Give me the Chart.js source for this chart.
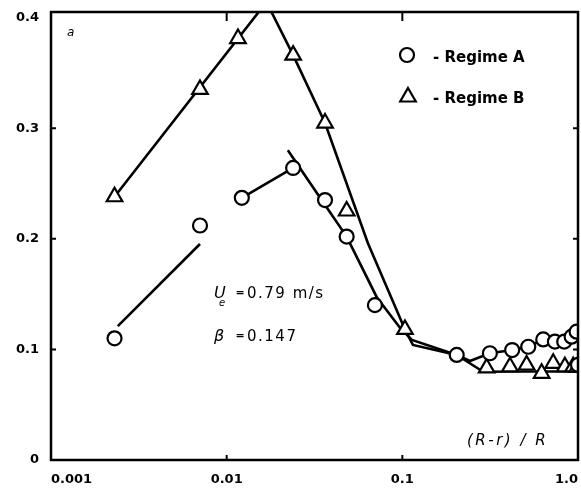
<!DOCTYPE html>
<html>
<head>
<meta charset="utf-8">
<script src="https://cdn.jsdelivr.net/npm/chart.js@4.4.0/dist/chart.umd.min.js"></script>
<style>
  body { margin: 0; background: #fff; }
  #wrap { width: 581px; height: 488px; }
</style>
</head>
<body>
<div id="wrap"><canvas id="profile-chart" width="581" height="488"></canvas></div>
<script>
// measured points, regime A (circles)
const regimeAX = [0.0023, 0.00705, 0.0122, 0.0239, 0.0363, 0.0482, 0.0698, 0.204, 0.315, 0.422, 0.521, 0.634, 0.739, 0.835, 0.92, 0.982, 1.0];
const regimeAY = [0.110, 0.212, 0.237, 0.264, 0.235, 0.202, 0.140, 0.095, 0.0965, 0.0994, 0.1024, 0.109, 0.107, 0.107, 0.1115, 0.116, 0.086];

// measured points, regime B (triangles)
const regimeBX = [0.0023, 0.00705, 0.0116, 0.0239, 0.0363, 0.0482, 0.1035, 0.302, 0.41, 0.51, 0.621, 0.7225, 0.842, 0.939, 0.99];
const regimeBY = [0.238, 0.335, 0.381, 0.366, 0.3046, 0.2251, 0.118, 0.0832, 0.0843, 0.0859, 0.0784, 0.0874, 0.0843, 0.0843, 0.084];

// faired curves through the points
const fitA1X = [0.0024, 0.00705];
const fitA1Y = [0.121, 0.1953];
const fitA2X = [0.0122, 0.0239];
const fitA2Y = [0.237, 0.264];
const fitA3X = [0.0223, 0.0363, 0.0482, 0.0714, 0.0969, 0.1134, 0.204, 0.2425, 0.315, 0.422, 0.521, 0.634, 0.835, 0.92, 1.0];
const fitA3Y = [0.280, 0.2305, 0.202, 0.1474, 0.1196, 0.1085, 0.095, 0.0895, 0.0965, 0.0994, 0.1024, 0.109, 0.1075, 0.1115, 0.117];
const fitBX = [0.0023, 0.01685, 0.0239, 0.0363, 0.0637, 0.1035, 0.1149, 0.204, 0.2887, 0.5, 1.0];
const fitBY = [0.238, 0.414, 0.366, 0.3046, 0.196, 0.118, 0.104, 0.095, 0.0798, 0.080, 0.080];

// axes
const xTicks = [0.001, 0.01, 0.1, 1];
const xTickLabels = ["0.001", "0.01", "0.1", "1.0"];
const yTicks = [0, 0.1, 0.2, 0.3, 0.4];
const yTickLabels = ["0", "0.1", "0.2", "0.3", "0.4"];

function pairs(xs, ys) {
  return xs.map((x, i) => ({ x: x, y: ys[i] }));
}

function fitLine(xs, ys) {
  return {
    data: pairs(xs, ys),
    showLine: true,
    borderColor: "#000",
    borderWidth: 2.6,
    pointRadius: 0,
    tension: 0,
    order: 1,
  };
}

const tickFont = { family: "DejaVu Sans", size: 13, weight: "bold" };

// frame, inward ticks, legend and notes
const notes = {
  id: "notes",
  afterDraw(chart) {
    const ctx = chart.ctx;
    const a = chart.chartArea;
    const sx = chart.scales.x;
    const sy = chart.scales.y;

    ctx.save();
    ctx.strokeStyle = "#000";
    ctx.fillStyle = "#000";
    ctx.lineWidth = 2.5;
    ctx.strokeRect(a.left, a.top, a.right - a.left, a.bottom - a.top);

    ctx.lineWidth = 2;
    ctx.beginPath();
    xTicks.slice(1, -1).forEach((v) => {
      const px = sx.getPixelForValue(v);
      ctx.moveTo(px, a.bottom);
      ctx.lineTo(px, a.bottom - 5);
      ctx.moveTo(px, a.top);
      ctx.lineTo(px, a.top + 9);
    });
    yTicks.slice(1, -1).forEach((v) => {
      const py = sy.getPixelForValue(v);
      ctx.moveTo(a.left, py);
      ctx.lineTo(a.left + 5, py);
      ctx.moveTo(a.right, py);
      ctx.lineTo(a.right - 5, py);
    });
    ctx.stroke();

    // legend
    ctx.lineWidth = 2.2;
    ctx.fillStyle = "#fff";
    ctx.beginPath();
    ctx.arc(407, 55, 7, 0, Math.PI * 2);
    ctx.fill();
    ctx.stroke();
    ctx.beginPath();
    ctx.moveTo(408, 88);
    ctx.lineTo(415.8, 101.5);
    ctx.lineTo(400.2, 101.5);
    ctx.closePath();
    ctx.fill();
    ctx.stroke();

    ctx.fillStyle = "#000";
    ctx.textBaseline = "alphabetic";
    ctx.textAlign = "left";
    ctx.font = "bold 15px 'DejaVu Sans'";
    ctx.fillText("- Regime A", 433, 62);
    ctx.fillText("- Regime B", 433, 103);

    ctx.font = "italic 12px 'DejaVu Sans'";
    ctx.fillText("a", 67, 36);

    // flow parameters
    ctx.font = "italic 16px 'DejaVu Sans'";
    ctx.fillText("U", 214, 298);
    ctx.fillText("β", 214, 341);
    ctx.font = "italic 10px 'DejaVu Sans'";
    ctx.fillText("e", 219, 306);
    ctx.font = "bold 11px 'DejaVu Sans'";
    ctx.textAlign = "center";
    ctx.fillText("=", 240, 296);
    ctx.fillText("=", 240, 339);
    ctx.textAlign = "left";
    ctx.font = "15px 'DejaVu Sans'";
    ctx.letterSpacing = "1.5px";
    ctx.fillText("0.79 m/s", 247, 298);
    ctx.fillText("0.147", 247, 341);

    ctx.font = "italic 15px 'DejaVu Sans'";
    ctx.letterSpacing = "2.5px";
    ctx.fillText("(R-r) / R", 467, 445);
    ctx.restore();
  },
};

const profileChart = document.getElementById("profile-chart");

new Chart(profileChart, {
  type: "scatter",
  data: {
    datasets: [
      {
        label: "Regime A",
        data: pairs(regimeAX, regimeAY),
        showLine: false,
        pointStyle: "circle",
        pointRadius: 7,
        pointBorderWidth: 2.2,
        pointBackgroundColor: "#fff",
        pointBorderColor: "#000",
        order: 0,
      },
      {
        label: "Regime B",
        data: pairs(regimeBX, regimeBY),
        showLine: false,
        pointStyle: "triangle",
        pointRadius: 9,
        pointBorderWidth: 2.2,
        pointBackgroundColor: "#fff",
        pointBorderColor: "#000",
        order: 0,
      },
      fitLine(fitA1X, fitA1Y),
      fitLine(fitA2X, fitA2Y),
      fitLine(fitA3X, fitA3Y),
      fitLine(fitBX, fitBY),
    ],
  },
  options: {
    responsive: false,
    animation: false,
    layout: {
      autoPadding: false,
      padding: { top: 12, right: 3, bottom: 0, left: 0 },
    },
    plugins: {
      legend: { display: false },
      tooltip: { enabled: false },
    },
    scales: {
      x: {
        type: "logarithmic",
        min: 0.001,
        max: 1,
        grid: { display: false, drawTicks: true, tickLength: 12 },
        border: { display: false },
        afterBuildTicks: (scale) => {
          scale.ticks = xTicks.map((v) => ({ value: v }));
        },
        afterFit: (scale) => {
          scale.height = 28;
          scale.paddingLeft = 0;
          scale.paddingRight = 0;
        },
        ticks: {
          autoSkip: false,
          maxRotation: 0,
          align: "inner",
          padding: 0,
          color: "#000",
          font: tickFont,
          callback: (value, index) => xTickLabels[index],
        },
      },
      y: {
        min: 0,
        max: 0.405,
        grid: { display: false, drawTicks: false },
        border: { display: false },
        afterBuildTicks: (scale) => {
          scale.ticks = yTicks.map((v) => ({ value: v }));
        },
        afterFit: (scale) => {
          scale.width = 51;
          scale.paddingTop = 0;
          scale.paddingBottom = 0;
        },
        ticks: {
          padding: 12,
          color: "#000",
          font: tickFont,
          callback: (value, index) => yTickLabels[index],
        },
      },
    },
  },
  plugins: [notes],
});
</script>
</body>
</html>
